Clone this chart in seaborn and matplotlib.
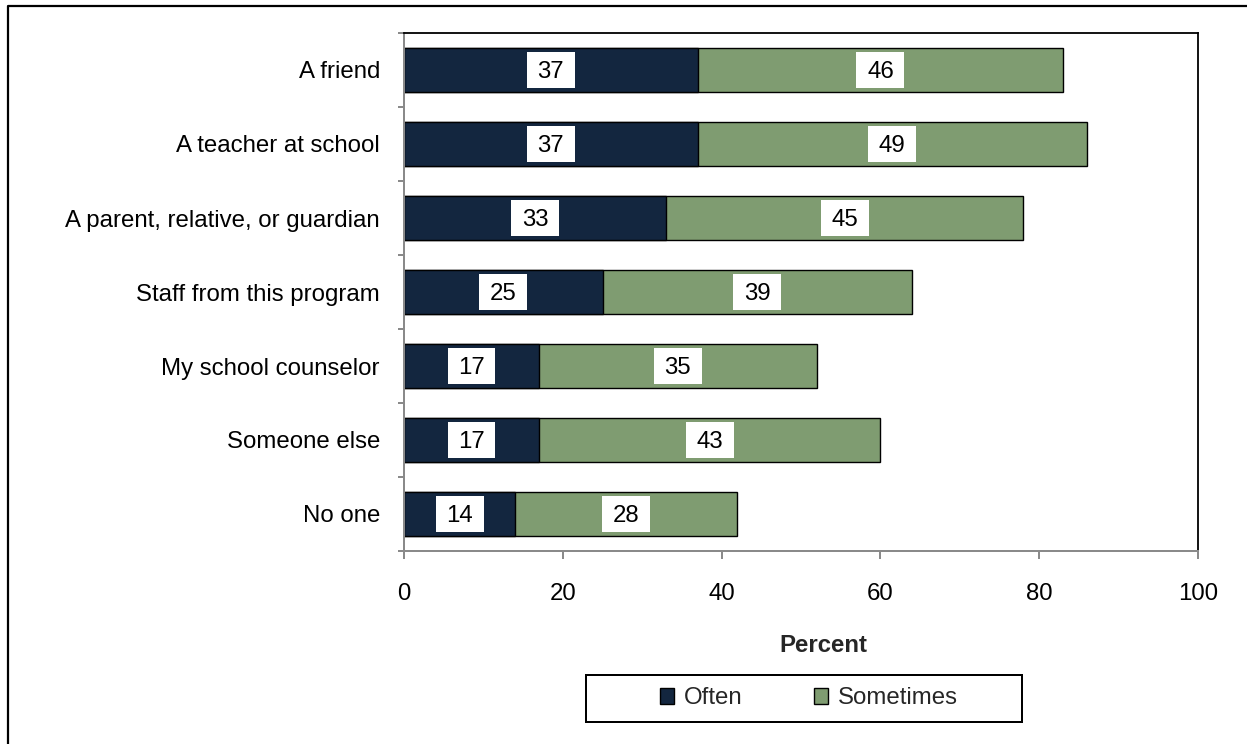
import numpy as np
import pandas as pd
import matplotlib
matplotlib.use("Agg")
import matplotlib.pyplot as plt
from matplotlib.path import Path
from matplotlib.patches import Patch, Rectangle
from matplotlib.lines import Line2D
from matplotlib.ticker import FixedLocator
import seaborn as sns

# Who students talk to about problems (percent)
categories = [
    "A friend",
    "A teacher at school",
    "A parent, relative, or guardian",
    "Staff from this program",
    "My school counselor",
    "Someone else",
    "No one",
]
often = [37, 37, 33, 25, 17, 17, 14]
sometimes = [46, 49, 45, 39, 35, 43, 28]
series_names = ["Often", "Sometimes"]
x_ticks = [0, 20, 40, 60, 80, 100]

NAVY = "#13263f"
GREEN = "#7f9c71"
GRAY = "#8a8a8a"
FS = 17.3

df = pd.DataFrame({"who": categories, "often": often, "sometimes": sometimes})
df["total"] = df["often"] + df["sometimes"]

sns.set_theme(style="white")
plt.rcParams["font.family"] = ["Liberation Sans", "DejaVu Sans"]

W, H = 1247, 744
fig = plt.figure(figsize=(W / 100, H / 100), dpi=100)
ax = fig.add_axes([404 / W, 1 - 551 / H, (1198 - 404) / W, (551 - 33) / H])

# Stacked bars: full total in green, the "Often" part drawn over it
sns.barplot(data=df, y="who", x="total", color=GREEN, orient="h", width=0.6,
            edgecolor="black", linewidth=1.0, saturation=1, ax=ax)
sns.barplot(data=df, y="who", x="often", color=NAVY, orient="h", width=0.6,
            edgecolor="black", linewidth=1.0, saturation=1, ax=ax)


def label_box(x0, y0, width, height, mutation_size):
    # white box, a little taller above the text than below so it sits centred
    px = 0.44 * mutation_size
    py_lo = 0.17 * mutation_size
    py_hi = 0.39 * mutation_size
    verts = [(x0 - px, y0 - py_lo), (x0 + width + px, y0 - py_lo),
             (x0 + width + px, y0 + height + py_hi), (x0 - px, y0 + height + py_hi),
             (x0 - px, y0 - py_lo)]
    return Path(verts, closed=True)


for i, (o, s) in enumerate(zip(often, sometimes)):
    for xc, val in ((o / 2, o), (o + s / 2, s)):
        ax.text(xc, i, f"{val}", ha="center", va="center_baseline", fontsize=FS,
                color="black", zorder=5,
                bbox=dict(boxstyle=label_box, facecolor="white",
                          edgecolor="none"))

ax.set_xlim(0, 100)
ax.set_xticks(x_ticks)
ax.set_xticklabels([str(t) for t in x_ticks], fontsize=FS)
ax.set_ylabel("")
ax.set_yticks(range(len(categories)))
ax.set_yticklabels(categories, fontsize=FS)
ax.yaxis.set_minor_locator(FixedLocator(np.arange(-0.5, len(categories), 1.0)))

ax.tick_params(axis="y", which="major", length=0, pad=17.3, colors="black")
ax.tick_params(axis="y", which="minor", length=4.5, width=1.44, color=GRAY,
               direction="out", left=True)
ax.tick_params(axis="x", which="major", length=5.8, width=1.44, color=GRAY,
               direction="out", pad=17, bottom=True, labelcolor="black")

for side in ("left", "bottom"):
    ax.spines[side].set_color(GRAY)
    ax.spines[side].set_linewidth(1.44)
for side in ("top", "right"):
    ax.spines[side].set_color("black")
    ax.spines[side].set_linewidth(1.3)
    ax.spines[side].set_visible(True)

ax.set_xlabel("Percent", fontsize=FS, fontweight="bold")
ax.xaxis.set_label_coords((823 - 404) / 794, (551 - 652) / 518)
ax.xaxis.label.set_va("baseline")

# Legend with a wide frame around it
handles = [Patch(facecolor=NAVY, edgecolor="black", linewidth=1.0),
           Patch(facecolor=GREEN, edgecolor="black", linewidth=1.0)]
fig.legend(handles, series_names, loc="center",
           bbox_to_anchor=(809 / W, 1 - 698.5 / H), ncol=2, frameon=False,
           fontsize=FS, handlelength=0.6, handleheight=0.6,
           handletextpad=0.42, columnspacing=2.95, borderpad=0.2)
fig.add_artist(Rectangle((586 / W, 1 - 722 / H), (1022 - 586) / W, (722 - 675) / H,
                         transform=fig.transFigure, facecolor="none",
                         edgecolor="black", linewidth=1.44))

# Outer chart border (top and left edges)
fig.add_artist(Line2D([8 / W, 8 / W, 1.0], [0.0, 1 - 6 / H, 1 - 6 / H],
                      transform=fig.transFigure, color="black", linewidth=1.6))

fig.savefig("out.png", dpi=100)
